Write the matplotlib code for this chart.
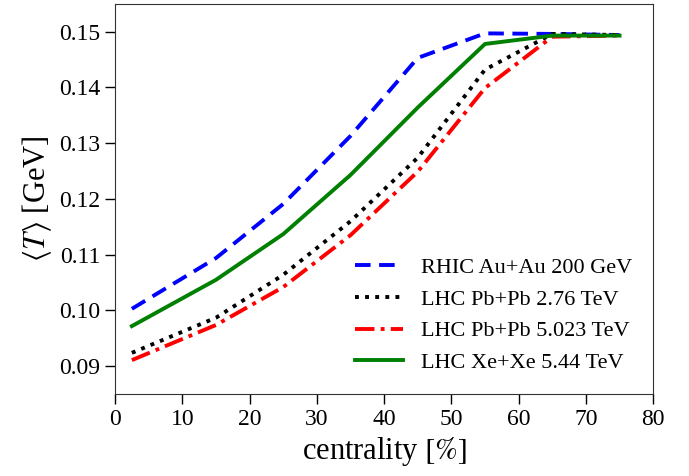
import numpy as np
import matplotlib
matplotlib.use('Agg')
import matplotlib.pyplot as plt

plt.rcParams['font.family'] = ['Liberation Serif', 'DejaVu Serif']
plt.rcParams['mathtext.fontset'] = 'stix'

centrality = [2.5, 15, 25, 35, 45, 55, 65, 75]
T_rhic = [0.1003, 0.1094, 0.1191, 0.1313, 0.1453, 0.1497, 0.1496, 0.1494]
T_pbpb276 = [0.0924, 0.0987, 0.1064, 0.1160, 0.1274, 0.1432, 0.1496, 0.1494]
T_pbpb5023 = [0.0911, 0.0974, 0.1042, 0.1135, 0.1249, 0.1399, 0.1491, 0.1493]
T_xexe = [0.0972, 0.1055, 0.1137, 0.1243, 0.1364, 0.1478, 0.1493, 0.1493]

fig = plt.figure(figsize=(6.89, 4.76), dpi=100)
ax = fig.add_axes([0.167, 0.172, 0.781, 0.82])

ax.plot(centrality, T_rhic, c='blue', ls=(0, (4, 2.2)), lw=2.8, label='RHIC Au+Au 200 GeV')
ax.plot(centrality, T_pbpb276, c='black', ls=(0, (1, 1.6)), lw=2.8, label='LHC Pb+Pb 2.76 TeV')
ax.plot(centrality, T_pbpb5023, c='red', ls=(0, (5, 1.6, 1, 1.6)), lw=2.8, label='LHC Pb+Pb 5.023 TeV')
ax.plot(centrality, T_xexe, c='green', ls='-', lw=2.8, label='LHC Xe+Xe 5.44 TeV')

ax.set_xlim(0, 80)
ax.set_ylim(0.085, 0.155)
ax.set_xticks(np.arange(0, 81, 10))
ax.set_yticks([0.09, 0.10, 0.11, 0.12, 0.13, 0.14, 0.15])
ax.set_yticklabels(['0.09', '0.10', '0.11', '0.12', '0.13', '0.14', '0.15'])
ax.tick_params(direction='out', length=7, width=1, labelsize=17)
ax.set_xlabel(r'centrality $[\%]$', fontsize=22)
ax.set_ylabel(r'$\langle T\rangle$ [GeV]', fontsize=22)
for key, spine in ax.spines.items():
    spine.set_color('#333333')

ax.legend(loc='lower right', frameon=False, fontsize=16, handlelength=2.15,
          handletextpad=0.8, borderaxespad=0.55, labelspacing=0.5)

fig.savefig('out.png', dpi=100)
